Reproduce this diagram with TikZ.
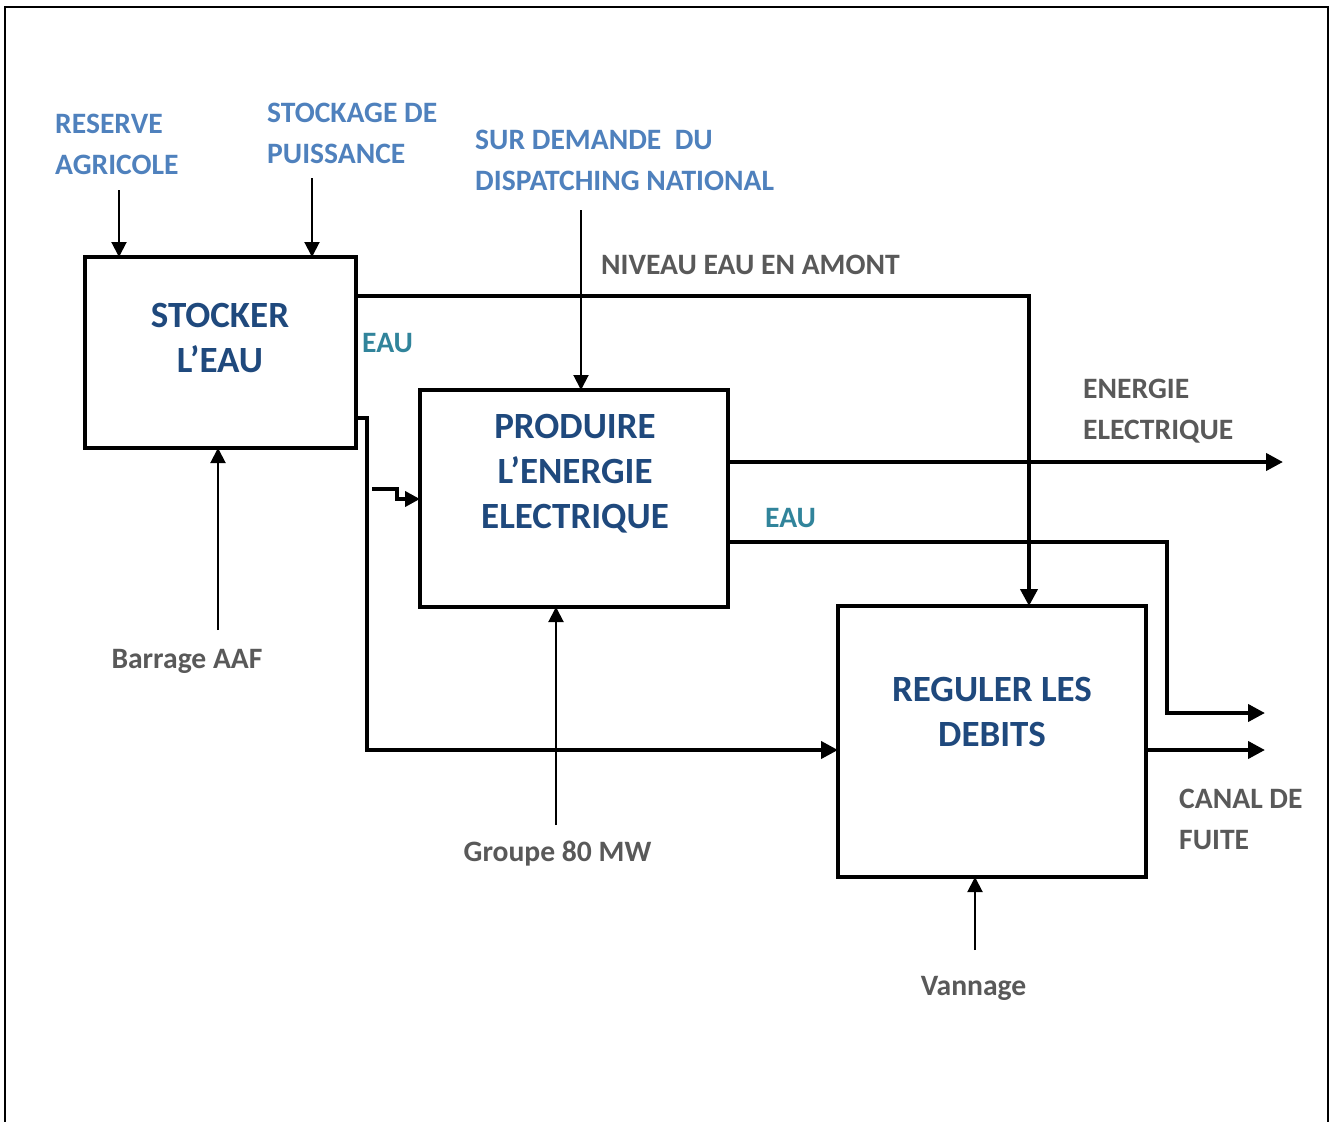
\documentclass[tikz,border=0pt]{standalone}
\usepackage{fontspec}
\setmainfont{Carlito}
\usetikzlibrary{arrows.meta,calc}
\definecolor{lblue}{HTML}{4F81BD}
\definecolor{dblue}{HTML}{1F497D}
\definecolor{gtxt}{HTML}{595959}
\definecolor{tealtxt}{HTML}{31849B}
\begin{document}
\begin{tikzpicture}[x=1pt,y=-1pt,
  boxnode/.style={draw,line width=4pt,inner sep=0pt,outer sep=0pt},
  boxtext/.style={text=dblue,font=\fontsize{37}{45}\selectfont\bfseries,align=center,inner sep=0pt},
  lbl/.style={font=\fontsize{29.6}{41}\selectfont\bfseries,align=left,inner sep=0pt},
  thk/.style={line width=4pt,-{Triangle[length=17pt,width=17pt]}},
  thn/.style={line width=2pt,-{Triangle[length=15pt,width=15pt]}},
  tip/.style={-{Triangle[length=15pt,width=15pt]}}
]
\useasboundingbox (0,0) rectangle (1334,1122);
\fill[white] (0,0) rectangle (1334,1122);
\draw[line width=2pt] (5,1122) -- (5,7) -- (1328,7) -- (1328,1122);

% boxes
\node[boxnode,minimum width=271pt,minimum height=191pt] (stock) at (220.5,352.5) {};
\node[boxnode,minimum width=308pt,minimum height=217pt] (prod) at (574,498.5) {};
\node[boxnode,minimum width=308pt,minimum height=271pt] (reg) at (992,741.5) {};

\node[boxtext] (stocktxt) at (220,338) {STOCKER\\L’EAU};
\node[boxtext] (prodtxt) at (575,474) {PRODUIRE\\L’ENERGIE\\ELECTRIQUE};
\node[boxtext] (regtxt) at (992,711.5) {REGULER LES\\DEBITS};

% labels
\node[lbl,text=lblue,anchor=west] (reserve) at (55,144.5) {RESERVE\\AGRICOLE};
\node[lbl,text=lblue,anchor=west] (stockage) at (267,133) {STOCKAGE DE\\PUISSANCE};
\node[lbl,text=lblue,anchor=west] (demande) at (475,160.5) {SUR DEMANDE\ \ DU\\DISPATCHING NATIONAL};
\node[lbl,text=gtxt,anchor=base west] (niveau) at (601,274.5) {NIVEAU EAU EN AMONT};
\node[lbl,text=tealtxt,anchor=base west] (eau1) at (362,352.5) {EAU};
\node[lbl,text=gtxt,anchor=west] (energie) at (1083,411) {ENERGIE\\ELECTRIQUE};
\node[lbl,text=tealtxt,anchor=base west] (eau2) at (765,527.5) {EAU};
\node[lbl,text=gtxt,anchor=west] (canal) at (1179,819.5) {CANAL DE\\FUITE};
\node[lbl,text=gtxt,anchor=base] (barrage) at (187,668.5) {Barrage AAF};
\node[lbl,text=gtxt,anchor=base] (groupe) at (557.5,861.5) {Groupe 80 MW};
\node[lbl,text=gtxt,anchor=base] (vannage) at (973.5,995.5) {Vannage};

% free ends
\coordinate (cres) at (119,190);
\coordinate (csto) at (312,178);
\coordinate (cdem) at (581,210);
\coordinate (cbar) at (218,630);
\coordinate (cgrp) at (556,825);
\coordinate (cvan) at (975,950);
\coordinate (cene) at (1283,462);
\coordinate (ceau) at (1265,713);
\coordinate (ccan) at (1265,750);
\coordinate (cstep) at (372,489);

% thin arrows
\draw[thn] (cres) -- (cres |- stock.north);
\draw[thn] (csto) -- (csto |- stock.north);
\draw[thn] (cdem) -- (cdem |- prod.north);
\draw[thn] (cbar) -- (cbar |- stock.south);
\draw[thn] (cgrp) -- (cgrp |- prod.south);
\draw[thn] (cvan) -- (cvan |- reg.south);

% thick connectors
\draw[thk] (stock.east |- 0,296) -| ($(reg.north west)+(191,0)$);
\draw[thk] (stock.east |- 0,418) -- (367,418) |- (reg.west |- 0,750);
\draw[line width=4pt,tip] (cstep) -- (397,489) -- (397,499) -- (prod.west |- 0,499);
\draw[thk] (prod.east |- cene) -- (cene);
\draw[thk] (prod.east |- 0,542) -- (1167,542) |- (ceau);
\draw[thk] (reg.east |- ccan) -- (ccan);
\end{tikzpicture}
\end{document}
